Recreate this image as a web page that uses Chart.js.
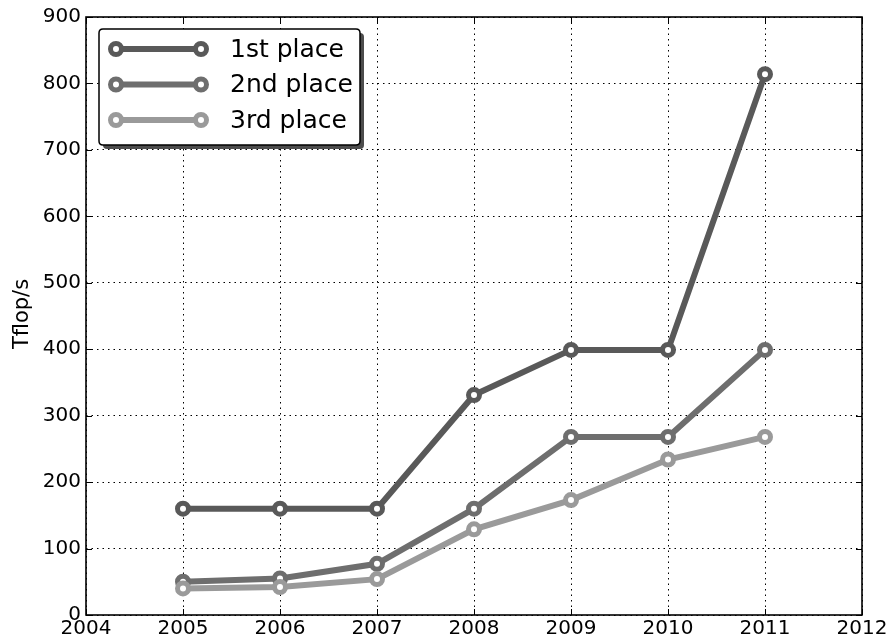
<!DOCTYPE html>
<html>
<head>
<meta charset="utf-8">
<script src="https://cdn.jsdelivr.net/npm/chart.js@4"></script>
<style>
  html, body { margin: 0; padding: 0; background: #fff; }
  #wrap { width: 892px; height: 644px; }
</style>
</head>
<body>
<div id="wrap"><canvas id="c" width="892" height="644"></canvas></div>
<script>
// Top500 performance of the leading systems, in Tflop/s
const years = [2005, 2006, 2007, 2008, 2009, 2010, 2011];
const firstPlace  = [160, 160, 160, 331, 399, 399, 814];
const secondPlace = [50, 55, 77, 160, 268, 268, 399];
const thirdPlace  = [40, 42, 54, 129, 173, 234, 268];
const seriesNames = ['1st place', '2nd place', '3rd place'];
const seriesColors = ['#595959', '#6e6e6e', '#9a9a9a'];
const yTitle = 'Tflop/s';

const FONT = '"DejaVu Sans", sans-serif';

function toPoints(vals) {
  return vals.map((v, i) => ({ x: years[i], y: v }));
}

function makeSet(idx, vals) {
  return {
    label: seriesNames[idx],
    data: toPoints(vals),
    borderColor: seriesColors[idx],
    backgroundColor: '#ffffff',
    pointBackgroundColor: '#ffffff',
    pointBorderColor: seriesColors[idx],
    borderWidth: 6,
    pointRadius: 5.5,
    pointBorderWidth: 5,
    pointHoverRadius: 5.5,
    tension: 0,
    order: 3 - idx
  };
}

// Frame, inward tick marks, the axis title and a shadowed legend box inside the plot
const framePlugin = {
  id: 'frame',
  afterDatasetsDraw(chart) {
    const { ctx, chartArea: a, scales } = chart;
    ctx.save();
    // inward ticks
    ctx.strokeStyle = '#000';
    ctx.lineWidth = 1;
    scales.x.ticks.forEach(t => {
      const px = Math.round(scales.x.getPixelForValue(t.value)) + 0.5;
      ctx.beginPath();
      ctx.moveTo(px, a.bottom); ctx.lineTo(px, a.bottom - 6);
      ctx.moveTo(px, a.top); ctx.lineTo(px, a.top + 6);
      ctx.stroke();
    });
    scales.y.ticks.forEach(t => {
      const py = Math.round(scales.y.getPixelForValue(t.value)) + 0.5;
      ctx.beginPath();
      ctx.moveTo(a.left, py); ctx.lineTo(a.left + 6, py);
      ctx.moveTo(a.right, py); ctx.lineTo(a.right - 6, py);
      ctx.stroke();
    });
    // frame
    ctx.lineWidth = 1.6;
    ctx.strokeRect(a.left, a.top, a.right - a.left, a.bottom - a.top);

    // y axis title
    ctx.save();
    ctx.translate(23, 314);
    ctx.rotate(-Math.PI / 2);
    ctx.font = '21px ' + FONT;
    ctx.fillStyle = '#000';
    ctx.textAlign = 'center';
    ctx.textBaseline = 'middle';
    ctx.fillText(yTitle, 0, 0);
    ctx.restore();

    // legend
    const lx = a.left + 13, ly = a.top + 12, lw = 261, lh = 116;
    const rr = (x, y, w, h, r) => {
      ctx.beginPath();
      ctx.moveTo(x + r, y);
      ctx.lineTo(x + w - r, y); ctx.quadraticCurveTo(x + w, y, x + w, y + r);
      ctx.lineTo(x + w, y + h - r); ctx.quadraticCurveTo(x + w, y + h, x + w - r, y + h);
      ctx.lineTo(x + r, y + h); ctx.quadraticCurveTo(x, y + h, x, y + h - r);
      ctx.lineTo(x, y + r); ctx.quadraticCurveTo(x, y, x + r, y);
      ctx.closePath();
    };
    ctx.fillStyle = '#4d4d4d';
    rr(lx + 4, ly + 4, lw, lh, 4); ctx.fill();
    ctx.fillStyle = '#ffffff';
    rr(lx, ly, lw, lh, 4); ctx.fill();
    ctx.strokeStyle = '#000'; ctx.lineWidth = 1.5;
    rr(lx, ly, lw, lh, 4); ctx.stroke();

    ctx.font = '25px ' + FONT;
    ctx.textBaseline = 'middle';
    ctx.textAlign = 'left';
    chart.data.datasets.forEach((ds, i) => {
      const cy = ly + 20 + i * 35.5;
      const x0 = lx + 17, x1 = lx + 102;
      ctx.strokeStyle = ds.borderColor; ctx.lineWidth = 6;
      ctx.beginPath(); ctx.moveTo(x0, cy); ctx.lineTo(x1, cy); ctx.stroke();
      [x0, x1].forEach(px => {
        ctx.beginPath(); ctx.arc(px, cy, 5.5, 0, Math.PI * 2);
        ctx.fillStyle = '#fff'; ctx.fill();
        ctx.lineWidth = 5; ctx.strokeStyle = ds.borderColor; ctx.stroke();
      });
      ctx.fillStyle = '#000';
      ctx.fillText(ds.label, lx + 131, cy + 1);
    });
    ctx.restore();
  }
};

new Chart(document.getElementById('c'), {
  type: 'line',
  data: {
    datasets: [makeSet(0, firstPlace), makeSet(1, secondPlace), makeSet(2, thirdPlace)]
  },
  options: {
    responsive: false,
    animation: false,
    layout: { padding: { top: 16, right: 30, left: 0, bottom: 0 } },
    plugins: { legend: { display: false }, tooltip: { enabled: false } },
    scales: {
      x: {
        type: 'linear',
        min: 2004, max: 2012,
        ticks: {
          stepSize: 1,
          color: '#000',
          font: { family: FONT, size: 20 },
          padding: 2,
          maxRotation: 0,
          callback: v => String(v)
        },
        grid: {
          color: '#000',
          lineWidth: 1,
          drawTicks: false
        },
        border: { display: false, dash: [1.5, 4] },
        afterFit(s) { s.height = 29; }
      },
      y: {
        min: 0, max: 900,
        ticks: {
          stepSize: 100,
          color: '#000',
          font: { family: FONT, size: 20 },
          padding: 5
        },
        grid: {
          color: '#000',
          lineWidth: 1,
          drawTicks: false
        },
        border: { display: false, dash: [1.5, 4] },
        afterFit(s) { s.width = 86; }
      }
    }
  },
  plugins: [framePlugin]
});
</script>
</body>
</html>
